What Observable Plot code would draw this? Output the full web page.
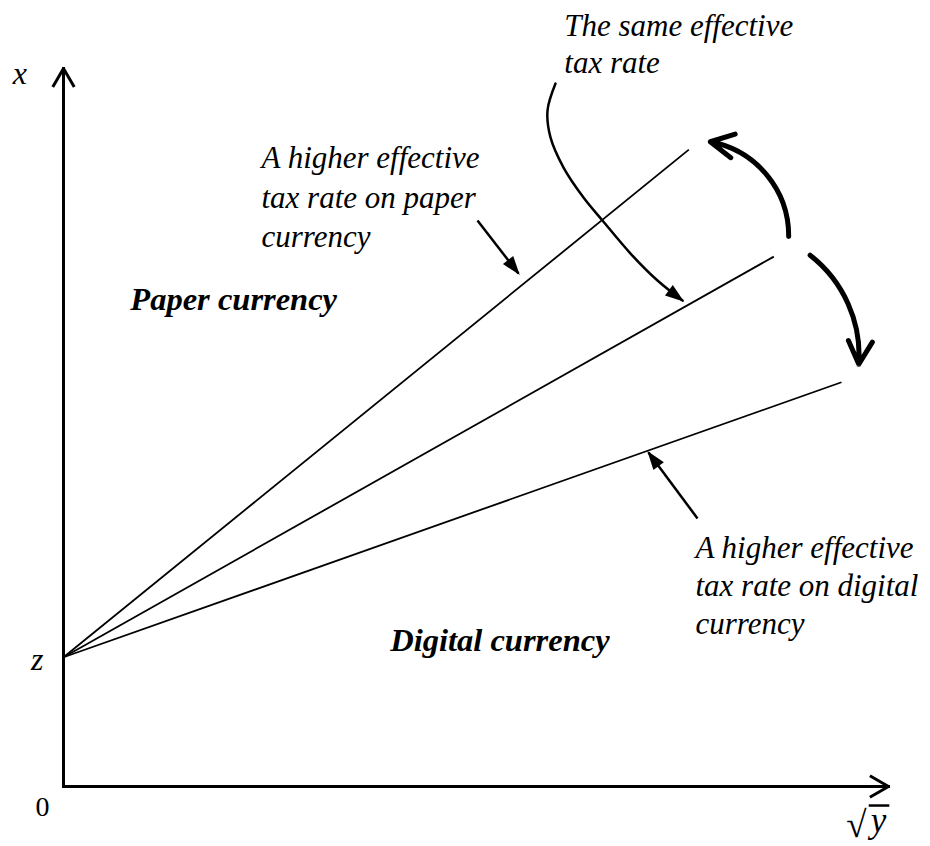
<!DOCTYPE html>
<html><head><meta charset="utf-8">
<script src="https://cdn.jsdelivr.net/npm/d3@7"></script>
<script src="https://cdn.jsdelivr.net/npm/@observablehq/plot@0.6"></script>
<style>body{margin:0;background:#fff} svg{display:block}</style>
</head><body><div id="chart"></div>
<script>
// ---- data (chart units: x = sqrt(y) axis 0..100, y = x axis 0..100) ----
const zValue = 18;                               // common intercept z
const lineNames = ["higher paper rate", "same rate", "higher digital rate"];
const lineEndX = [75.8, 86.1, 94.3];
const lineEndY = [88.7, 73.8, 56.3];

const axisLabels = ["x", "z", "0"];
const axisLabelX = [-5.3, -3.2, -2.55];
const axisLabelY = [97.9, 16.2, -4.04];

const regionLabels = ["Paper currency", "Digital currency"];
const regionLabelX = [8.1, 39.6];
const regionLabelY = [66.3, 18.9];

const noteSame = "The same effective\ntax rate";
const notePaper = "A higher effective\ntax rate on paper\ncurrency";
const noteDigital = "A higher effective\ntax rate on digital\ncurrency";
const noteX = [60.7, 24.0, 76.6];
const noteY = [99.4, 75.1, 21.3];

// pointer arrows: start -> end
const paperArrow = {x1: 50.18, y1: 78.83, x2: 55.15, y2: 71.45};
const digitalArrow = {x1: 76.85, y1: 37.33, x2: 70.91, y2: 46.52};
const sameCurveX = [59.64, 58.67, 59.03, 60.61, 63.03, 65.33, 68.73, 72.0, 75.03];
const sameCurveY = [97.9, 94.15, 90.4, 86.2, 82.03, 78.83, 74.23, 70.47, 67.69];
// rotation arrows (start -> end, bend in degrees)
const rotateUp = {x1: 87.9, y1: 76.6, x2: 78.4, y2: 89.8};
const rotateDown = {x1: 90.5, y1: 74.0, x2: 96.4, y2: 58.8};
const rotateBend = [-40, 28];

const lines = lineNames.map((n, i) => ({name: n, x1: 0, y1: zValue, x2: lineEndX[i], y2: lineEndY[i]}));
const sameCurve = sameCurveX.map((x, i) => ({x, y: sameCurveY[i]}));
const serif = "Liberation Serif, Times New Roman, serif";
const arrowOpts = {x1: "x1", y1: "y1", x2: "x2", y2: "y2", stroke: "black", strokeWidth: 5, headLength: 7.8, headAngle: 55};

const chart = Plot.plot({
  width: 930, height: 846,
  marginLeft: 63, marginRight: 42, marginTop: 68, marginBottom: 60,
  x: {domain: [0, 100], axis: null},
  y: {domain: [0, 100], axis: null},
  style: {background: "white", color: "black"},
  marks: [
    // axes
    Plot.arrow([{x1: 0, y1: 0, x2: 0, y2: 100}, {x1: 0, y1: 0, x2: 100, y2: 0}],
      {x1: "x1", y1: "y1", x2: "x2", y2: "y2", stroke: "black", strokeWidth: 3, headLength: 10, headAngle: 60, strokeLinecap: "square"}),
    // rays from z
    Plot.link(lines, {x1: "x1", y1: "y1", x2: "x2", y2: "y2", stroke: "black", strokeWidth: 1.8}),
    // pointer arrows
    Plot.link([paperArrow, digitalArrow], {x1: "x1", y1: "y1", x2: "x2", y2: "y2", stroke: "black", strokeWidth: 2.5, markerEnd: "arrow"}),
    Plot.line(sameCurve, {x: "x", y: "y", curve: "catmull-rom", stroke: "black", strokeWidth: 2.5, markerEnd: "arrow"}),
    // rotation arrows
    Plot.arrow([rotateUp], {...arrowOpts, bend: rotateBend[0]}),
    Plot.arrow([rotateDown], {...arrowOpts, bend: rotateBend[1]}),
    // text
    Plot.text(axisLabels.slice(0, 2).map((t, i) => ({t, x: axisLabelX[i], y: axisLabelY[i]})),
      {x: "x", y: "y", text: "t", fontFamily: serif, fontStyle: "italic", fontSize: 32, textAnchor: "middle", lineAnchor: "bottom", fill: "black"}),
    Plot.text([{t: axisLabels[2], x: axisLabelX[2], y: axisLabelY[2]}],
      {x: "x", y: "y", text: "t", fontFamily: serif, fontSize: 28, textAnchor: "middle", lineAnchor: "bottom", fill: "black"}),
    Plot.text([{t: "\u221A", x: 96.1, y: -7.0}], {x: "x", y: "y", text: "t", fontFamily: serif, fontSize: 37, textAnchor: "middle", lineAnchor: "bottom", fill: "black"}),
    Plot.text([{t: "y", x: 98.8, y: -6.3}], {x: "x", y: "y", text: "t", fontFamily: serif, fontStyle: "italic", fontSize: 35, textAnchor: "middle", lineAnchor: "bottom", fill: "black"}),
    Plot.link([{x1: 97.6, x2: 100.1, y: -2.65}], {x1: "x1", x2: "x2", y1: "y", y2: "y", stroke: "black", strokeWidth: 2.5}),
    Plot.text(regionLabels.map((t, i) => ({t, x: regionLabelX[i], y: regionLabelY[i]})),
      {x: "x", y: "y", text: "t", fontFamily: serif, fontStyle: "italic", fontWeight: "bold", fontSize: 32.5, textAnchor: "start", lineAnchor: "bottom", fill: "black"}),
    Plot.text([{t: noteSame, x: noteX[0], y: noteY[0]}],
      {x: "x", y: "y", text: "t", fontFamily: serif, fontStyle: "italic", fontSize: 31, lineHeight: 37 / 31, textAnchor: "start", lineAnchor: "bottom", fill: "black"}),
    Plot.text([{t: notePaper, x: noteX[1], y: noteY[1]}],
      {x: "x", y: "y", text: "t", fontFamily: serif, fontStyle: "italic", fontSize: 31, lineHeight: 39.5 / 31, textAnchor: "start", lineAnchor: "bottom", fill: "black"}),
    Plot.text([{t: noteDigital, x: noteX[2], y: noteY[2]}],
      {x: "x", y: "y", text: "t", fontFamily: serif, fontStyle: "italic", fontSize: 31, lineHeight: 38 / 31, textAnchor: "start", lineAnchor: "bottom", fill: "black"})
  ]
});

// turn the open arrow markers into filled triangular heads
chart.querySelectorAll("marker").forEach((m) => {
  const color = m.getAttribute("stroke") || "black";
  m.setAttribute("viewBox", "-22 -10 26 20");
  m.setAttribute("markerWidth", 26);
  m.setAttribute("markerHeight", 20);
  m.setAttribute("markerUnits", "userSpaceOnUse");
  m.setAttribute("overflow", "visible");
  m.setAttribute("fill", color);
  m.setAttribute("stroke", "none");
  const p = m.querySelector("path");
  if (p) p.setAttribute("d", "M-17,-6.5L2,0L-17,6.5Z");
});

document.getElementById("chart").appendChild(chart);
</script>
</body></html>
